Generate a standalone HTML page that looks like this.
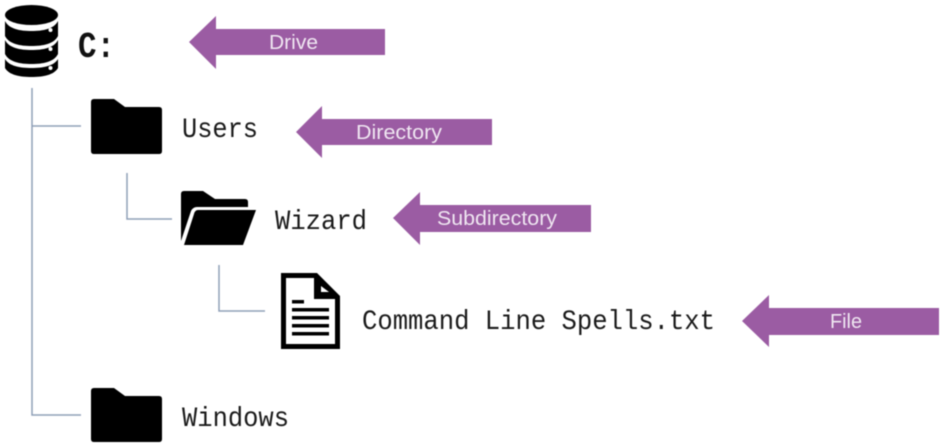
<!DOCTYPE html>
<html>
<head>
<meta charset="utf-8">
<style>
html,body{margin:0;padding:0;background:#fff;width:942px;height:446px;overflow:hidden}
svg{display:block;filter:blur(0.6px)}
.m{font-family:"Liberation Mono",monospace;font-size:28px;fill:#1a1a1a}
.a{font-family:"Liberation Sans",sans-serif;font-size:20px;fill:#efe6f1}
</style>
</head>
<body>
<svg width="942" height="446" viewBox="0 0 942 446" xmlns="http://www.w3.org/2000/svg">
<!-- connectors -->
<g fill="none" stroke="#8fa0b8" stroke-width="1.5">
<path d="M32 88V415H81"/>
<path d="M32 126H81"/>
<path d="M127 173V219H172"/>
<path d="M219 265V311H265"/>
</g>
<!-- database -->
<g fill="#000">
<ellipse cx="31.500" cy="15" rx="26.500" ry="10"/>
<path d="M5 21C9 29 20 31 31.500 31C43 31 54 29 58 21V36C54 44 43 46 31.500 46C20 46 9 44 5 36Z"/>
<path d="M5 41C9 49 20 51 31.500 51C43 51 54 49 58 41V55C54 63 43 65 31.500 65C20 65 9 63 5 55Z" transform="translate(0,-1)"/>
<path d="M5 59C9 66 20 68 31.500 68C43 68 54 66 58 59V68C54 75 43 77 31.500 77C20 77 9 75 5 68Z"/>
</g>
<g fill="#fff"><circle cx="50.500" cy="30" r="2"/><circle cx="50.500" cy="49" r="2"/><circle cx="50.500" cy="68" r="2"/></g>
<text x="78" y="57" textLength="37" lengthAdjust="spacingAndGlyphs" style="font-family:'Liberation Mono',monospace;font-size:36px;font-weight:bold;fill:#111">C:</text>
<!-- Users folder -->
<path d="M94 99H114L125 107H159Q162 107 162 110V151Q162 154 159 154H94Q91 154 91 151V102Q91 99 94 99Z" fill="#000"/>
<text x="182" y="137" class="m" textLength="76" lengthAdjust="spacingAndGlyphs">Users</text>
<!-- Windows folder -->
<path d="M94 388H114L125 396H159Q162 396 162 399V439Q162 442 159 442H94Q91 442 91 439V391Q91 388 94 388Z" fill="#000"/>
<text x="182" y="426" class="m" textLength="107" lengthAdjust="spacingAndGlyphs">Windows</text>
<!-- open folder -->
<path d="M184 191H203L215 199H245Q248 199 248 202V207H197Q193 207 191 211L181 241V194Q181 191 184 191Z" fill="#000"/>
<path d="M198 210H256L243 245H184L194 214Q195 210 198 210Z" fill="#000"/>
<text x="275" y="229" class="m" textLength="92" lengthAdjust="spacingAndGlyphs">Wizard</text>
<!-- file -->
<path fill-rule="evenodd" d="M281 273H317L340 296V349H281ZM286 278V344H335V299H314V278Z" fill="#000"/>
<path d="M318 279L335 295H318Z" fill="#000"/>
<path d="M321 286L329 292H321Z" fill="#fff"/>
<g fill="#000">
<rect x="292" y="300" width="12" height="3.500"/>
<rect x="292" y="308" width="37" height="3.500"/>
<rect x="292" y="316" width="37" height="3.500"/>
<rect x="292" y="324" width="37" height="3.500"/>
<rect x="292" y="332" width="37" height="3.500"/>
</g>
<text x="362" y="329" class="m" textLength="353" lengthAdjust="spacingAndGlyphs">Command Line Spells.txt</text>
<!-- arrows -->
<g fill="#9b5ca3">
<path d="M189 42L216 16V29H385V55H216V69Z"/>
<path d="M296 132L322 106V119H492V145H322V158Z"/>
<path d="M393 218L420 192V205H591V232H420V245Z"/>
<path d="M742 321L769 295V308H939V335H769V347Z"/>
</g>
<text x="269" y="49" class="a" textLength="49" lengthAdjust="spacingAndGlyphs">Drive</text>
<text x="356" y="139" class="a" textLength="86" lengthAdjust="spacingAndGlyphs">Directory</text>
<text x="437" y="225" class="a" textLength="120" lengthAdjust="spacingAndGlyphs">Subdirectory</text>
<text x="830" y="328" class="a" textLength="32" lengthAdjust="spacingAndGlyphs">File</text>
</svg>
</body>
</html>
